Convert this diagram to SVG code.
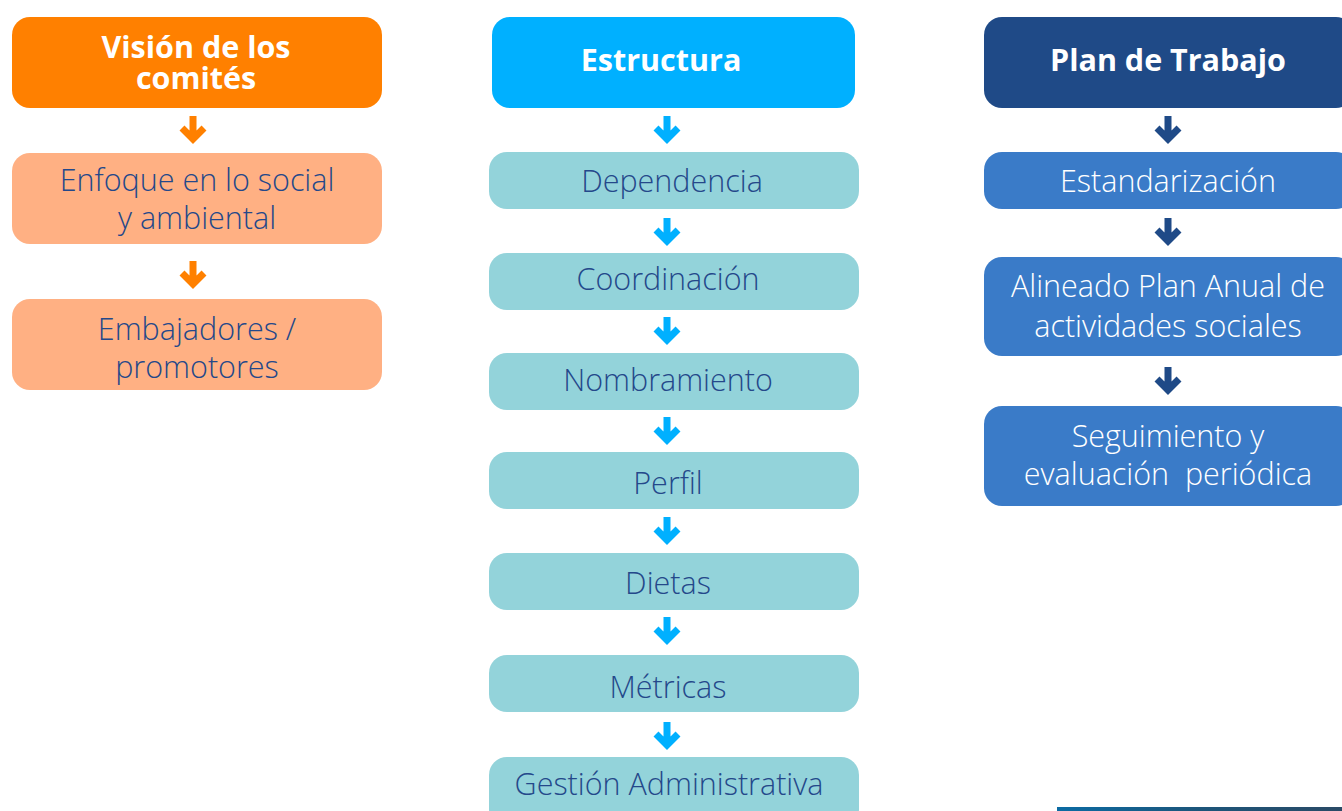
<svg xmlns="http://www.w3.org/2000/svg" width="1342" height="811" viewBox="0 0 1342 811">
<defs>
<linearGradient id="strip" x1="0" y1="0" x2="1" y2="0">
<stop offset="0" stop-color="#0B6BA3"/>
<stop offset="0.5" stop-color="#1C557A"/>
<stop offset="1" stop-color="#2A4A66"/>
</linearGradient>
</defs>
<style>
text{font-family:"Open Sans","Noto Sans","DejaVu Sans",sans-serif;text-anchor:middle;}
.h{font-weight:700;font-size:30.5px;fill:#FFFFFF;}
.t{font-weight:300;font-size:30.5px;}
.dk{fill:#24488A;}
.wh{fill:#FFFFFF;}
.pre{white-space:pre;}
.arr{fill:none;stroke-width:7;stroke-linejoin:miter;stroke-linecap:butt;}
.ao{stroke:#FF8000;}
.ac{stroke:#00B0FF;}
.an{stroke:#1F4A87;}
</style>
<rect x="0" y="0" width="1342" height="811" fill="#FFFFFF"/>
<g id="vision"><rect x="12" y="17" width="370" height="91" rx="18" fill="#FF8000"/><text class="h"><tspan x="196" y="58">Visión de los</tspan><tspan x="196" y="89">comités</tspan></text></g>
<g id="enfoque"><rect x="12" y="153" width="370" height="91" rx="18" fill="#FFB083"/><text class="t dk"><tspan x="197" y="191">Enfoque en lo social</tspan><tspan x="197" y="229">y ambiental</tspan></text></g>
<g id="embajadores"><rect x="12" y="299" width="370" height="91" rx="18" fill="#FFB083"/><text class="t dk"><tspan x="197" y="340">Embajadores /</tspan><tspan x="197" y="378">promotores</tspan></text></g>
<g id="estructura"><rect x="492" y="17" width="363" height="91" rx="18" fill="#00B0FF"/><text class="h" x="661" y="71">Estructura</text></g>
<g id="dependencia"><rect x="489" y="152" width="370" height="57" rx="18" fill="#93D3DA"/><text class="t dk" x="672" y="192">Dependencia</text></g>
<g id="coordinacion"><rect x="489" y="253" width="370" height="57" rx="18" fill="#93D3DA"/><text class="t dk" x="668" y="290">Coordinación</text></g>
<g id="nombramiento"><rect x="489" y="353" width="370" height="57" rx="18" fill="#93D3DA"/><text class="t dk" x="668" y="391">Nombramiento</text></g>
<g id="perfil"><rect x="489" y="452" width="370" height="57" rx="18" fill="#93D3DA"/><text class="t dk" x="668" y="494">Perfil</text></g>
<g id="dietas"><rect x="489" y="553" width="370" height="57" rx="18" fill="#93D3DA"/><text class="t dk" x="668" y="594">Dietas</text></g>
<g id="metricas"><rect x="489" y="655" width="370" height="57" rx="18" fill="#93D3DA"/><text class="t dk" x="668" y="698">Métricas</text></g>
<g id="gestion"><rect x="489" y="757" width="370" height="70" rx="18" fill="#93D3DA"/><text class="t dk" x="669" y="795">Gestión Administrativa</text></g>
<g id="plan"><rect x="984" y="17" width="370" height="91" rx="18" fill="#1F4A87"/><text class="h" x="1168" y="71">Plan de Trabajo</text></g>
<g id="estandarizacion"><rect x="984" y="152" width="370" height="57" rx="18" fill="#3A7BC8"/><text class="t wh" x="1168" y="192">Estandarización</text></g>
<g id="alineado"><rect x="984" y="257" width="370" height="99" rx="18" fill="#3A7BC8"/><text class="t wh"><tspan x="1168" y="297">Alineado Plan Anual de</tspan><tspan x="1168" y="337">actividades sociales</tspan></text></g>
<g id="seguimiento"><rect x="984" y="406" width="370" height="100" rx="18" fill="#3A7BC8"/><text class="t wh pre" xml:space="preserve"><tspan x="1168" y="447">Seguimiento y</tspan><tspan x="1168" y="485">evaluación  periódica</tspan></text></g>
<g id="connectors">
<path class="arr ao" d="M193,116V139M182,128L193,139L204,128"/>
<path class="arr ao" d="M193,261V284M182,273L193,284L204,273"/>
<path class="arr ac" d="M667,116V139M656,128L667,139L678,128"/>
<path class="arr ac" d="M667,218V241M656,230L667,241L678,230"/>
<path class="arr ac" d="M667,317V340M656,329L667,340L678,329"/>
<path class="arr ac" d="M667,417V440M656,429L667,440L678,429"/>
<path class="arr ac" d="M667,517V540M656,529L667,540L678,529"/>
<path class="arr ac" d="M667,617V640M656,629L667,640L678,629"/>
<path class="arr ac" d="M667,722V745M656,734L667,745L678,734"/>
<path class="arr an" d="M1168,116V139M1157,128L1168,139L1179,128"/>
<path class="arr an" d="M1168,218V241M1157,230L1168,241L1179,230"/>
<path class="arr an" d="M1168,367V390M1157,379L1168,390L1179,379"/>
</g>
<rect x="1057" y="807" width="285" height="4" fill="url(#strip)"/>
</svg>
